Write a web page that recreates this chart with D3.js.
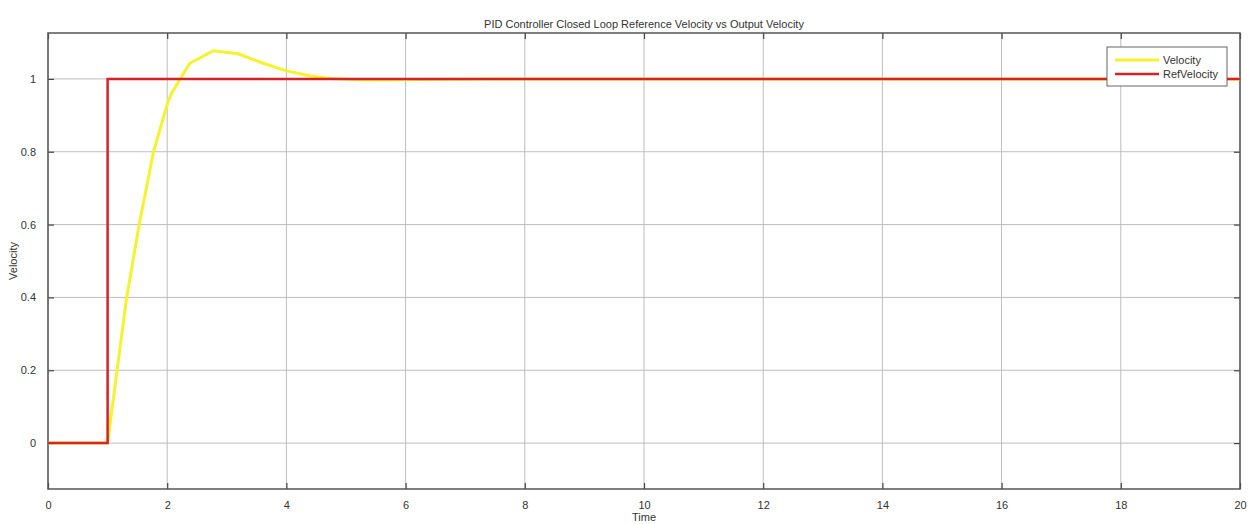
<!DOCTYPE html>
<html>
<head>
  <meta charset="utf-8">
  <title>PID Controller Closed Loop</title>
  <script src="https://d3js.org/d3.v7.min.js"></script>
  <style>
    body { margin: 0; background: #fff; }
    text { font-family: "Liberation Sans", Arial, sans-serif; fill: #333; }
  </style>
</head>
<body>
<script>
  // time / value pairs
  var velTime = [0, 1, 1.15, 1.32, 1.53, 1.77, 2.0, 2.07, 2.38, 2.77, 3.19, 3.61, 4.0, 4.4, 4.75, 5.3, 6.3, 7.5, 20];
  var velValue = [0, 0, 0.19, 0.40, 0.60, 0.80, 0.93, 0.96, 1.043, 1.077, 1.069, 1.043, 1.022, 1.008, 1.001, 0.997, 0.998, 1, 1];
  var refTime = [0, 1, 1, 20];
  var refValue = [0, 0, 1, 1];
  var xTicks = [0, 2, 4, 6, 8, 10, 12, 14, 16, 18, 20];
  var yTicks = [0, 0.2, 0.4, 0.6, 0.8, 1];
  var seriesNames = ['Velocity', 'RefVelocity'];
  var seriesColors = ['#f6f22e', '#d42228'];

  var width = 1250;
  var height = 524;
  var plotLeft = 48, plotRight = 1240, plotTop = 33, plotBottom = 489;

  var svg = d3.select('body').append('svg').attr('width', width).attr('height', height);

  var xscale = d3.scaleLinear().domain([0, 20]).range([plotLeft, plotRight]);
  var yscale = d3.scaleLinear().domain([-0.126, 1.126]).range([plotBottom, plotTop]);

  // grid
  svg.append('g').selectAll('line').data(xTicks).enter().append('line')
    .attr('x1', function(d) {return xscale(d);}).attr('x2', function(d) {return xscale(d);})
    .attr('y1', plotTop).attr('y2', plotBottom)
    .attr('stroke', '#bdbdbd').attr('stroke-width', 1);
  svg.append('g').selectAll('line').data(yTicks).enter().append('line')
    .attr('x1', plotLeft).attr('x2', plotRight)
    .attr('y1', function(d) {return yscale(d);}).attr('y2', function(d) {return yscale(d);})
    .attr('stroke', '#bdbdbd').attr('stroke-width', 1);

  // axes, ticks pointing inwards
  var axisx = d3.axisBottom(xscale).tickValues(xTicks).tickSize(-6).tickPadding(12).tickFormat(d3.format('d'));
  var axisy = d3.axisLeft(yscale).tickValues(yTicks).tickSize(-6).tickPadding(12).tickFormat(function(d) {return d === 0 || d === 1 ? d : d.toFixed(1);});
  var axisxTop = d3.axisTop(xscale).tickValues(xTicks).tickSize(-6).tickFormat('');
  var axisyRight = d3.axisRight(yscale).tickValues(yTicks).tickSize(-6).tickFormat('');

  function styleAxis(g) {
    g.select('.domain').remove();
    g.selectAll('.tick line').attr('stroke', '#444').attr('stroke-width', 1.2);
    g.selectAll('.tick text').attr('font-size', 11).attr('fill', '#333')
      .style('font-family', '"Liberation Sans", Arial, sans-serif');
  }

  svg.append('g').attr('transform', 'translate(0,' + plotBottom + ')').call(axisx).call(styleAxis);
  svg.append('g').attr('transform', 'translate(' + plotLeft + ',0)').call(axisy).call(styleAxis);
  svg.append('g').attr('transform', 'translate(0,' + plotTop + ')').call(axisxTop).call(styleAxis);
  svg.append('g').attr('transform', 'translate(' + plotRight + ',0)').call(axisyRight).call(styleAxis);

  svg.append('rect')
    .attr('x', plotLeft).attr('y', plotTop).attr('width', plotRight - plotLeft).attr('height', plotBottom - plotTop)
    .attr('fill', 'none').attr('stroke', '#555').attr('stroke-width', 1.5);

  // lines
  var line = d3.line()
    .x(function(d) {return xscale(d[0]);})
    .y(function(d) {return yscale(d[1]);});

  var velData = velTime.map(function(t, i) {return [t, velValue[i]];});
  var refData = refTime.map(function(t, i) {return [t, refValue[i]];});

  svg.append('path').datum(velData).attr('d', line)
    .attr('fill', 'none').attr('stroke', seriesColors[0]).attr('stroke-width', 3)
    .attr('stroke-linejoin', 'round');
  svg.append('path').datum(refData).attr('d', line)
    .attr('fill', 'none').attr('stroke', seriesColors[1]).attr('stroke-width', 2.5);

  // titles
  svg.append('text').attr('x', (plotLeft + plotRight) / 2).attr('y', 28)
    .attr('text-anchor', 'middle').attr('font-size', 11).text('PID Controller Closed Loop Reference Velocity vs Output Velocity');
  svg.append('text').attr('x', (plotLeft + plotRight) / 2).attr('y', 521)
    .attr('text-anchor', 'middle').attr('font-size', 11).text('Time');
  svg.append('text').attr('transform', 'translate(17,' + ((plotTop + plotBottom) / 2) + ') rotate(-90)')
    .attr('text-anchor', 'middle').attr('font-size', 11).text('Velocity');

  // legend
  var legend = svg.append('g').attr('transform', 'translate(1107,47)');
  legend.append('rect').attr('width', 120).attr('height', 39)
    .attr('fill', '#fff').attr('stroke', '#666').attr('stroke-width', 1);
  seriesNames.forEach(function(name, i) {
    var y = 13 + i * 14;
    legend.append('line').attr('x1', 8).attr('x2', 52).attr('y1', y).attr('y2', y)
      .attr('stroke', seriesColors[i]).attr('stroke-width', i === 0 ? 3 : 2.5);
    legend.append('text').attr('x', 56).attr('y', y + 4).attr('font-size', 11).text(name);
  });
</script>
</body>
</html>
